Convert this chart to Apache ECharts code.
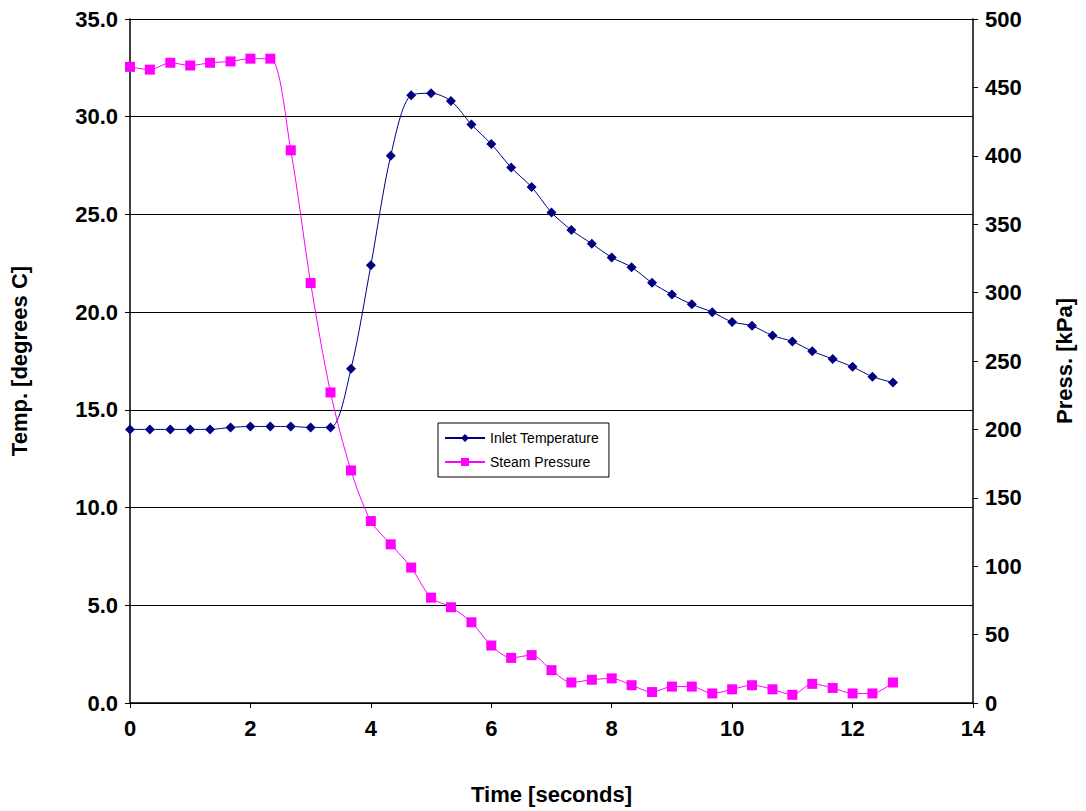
<!DOCTYPE html>
<html><head><meta charset="utf-8">
<script src="https://cdn.jsdelivr.net/npm/echarts@6/dist/echarts.min.js"></script>
<style>html,body{margin:0;background:#fff}#c{width:1086px;height:811px}</style>
</head><body><div id="c"></div>
<script>
var times = [0, 0.33, 0.67, 1, 1.33, 1.67, 2, 2.33, 2.67, 3, 3.33, 3.67, 4, 4.33, 4.67, 5, 5.33, 5.67, 6, 6.33, 6.67, 7, 7.33, 7.67, 8, 8.33, 8.67, 9, 9.33, 9.67, 10, 10.33, 10.67, 11, 11.33, 11.67, 12, 12.33, 12.67];
var inletTemp = [14.0, 14.0, 14.0, 14.0, 14.0, 14.1, 14.15, 14.15, 14.15, 14.1, 14.1, 17.1, 22.4, 28.0, 31.1, 31.2, 30.8, 29.6, 28.6, 27.4, 26.4, 25.1, 24.2, 23.5, 22.8, 22.3, 21.5, 20.9, 20.4, 20.0, 19.5, 19.3, 18.8, 18.5, 18.0, 17.6, 17.2, 16.7, 16.4];
var steamPress = [465, 463, 468, 466, 468, 469, 471, 471, 404, 307, 227, 170, 133, 116, 99, 77, 70, 59, 42, 33, 35, 24, 15, 17, 18, 13, 8, 12, 12, 7, 10, 13, 10, 6, 14, 11, 7, 7, 15];

function pairs(ys) { return times.map(function (t, i) { return [t, ys[i]]; }); }

var font = 'Liberation Sans, Arial, sans-serif';
var chart = echarts.init(document.getElementById('c'), null, { renderer: 'svg' });
chart.setOption({
  animation: false,
  grid: { left: 130, right: 113, top: 19, bottom: 108 },
  legend: {
    left: 438, top: 423, orient: 'vertical', itemGap: 10, itemWidth: 40, itemHeight: 10,
    borderColor: '#000', borderWidth: 1, padding: [8, 10, 8, 6], backgroundColor: '#fff',
    textStyle: { fontFamily: font, fontSize: 14, color: '#000' },
    data: ['Inlet Temperature', 'Steam Pressure']
  },
  xAxis: {
    type: 'value', min: 0, max: 14, interval: 2,
    name: 'Time [seconds]', nameLocation: 'middle', nameGap: 80,
    nameTextStyle: { fontFamily: font, fontSize: 22, fontWeight: 'bold', color: '#000' },
    axisLine: { lineStyle: { color: '#000', width: 1.5 } },
    axisTick: { show: true, inside: false, lineStyle: { color: '#000' } },
    axisLabel: { fontFamily: font, fontSize: 22, fontWeight: 'bold', color: '#000', margin: 14 },
    splitLine: { show: false }
  },
  yAxis: [{
    type: 'value', min: 0, max: 35, interval: 5,
    name: 'Temp. [degrees C]', nameLocation: 'middle', nameGap: 100, nameRotate: 90,
    nameTextStyle: { fontFamily: font, fontSize: 22, fontWeight: 'bold', color: '#000' },
    axisLine: { show: true, lineStyle: { color: '#000', width: 1.5 } },
    axisTick: { show: true, lineStyle: { color: '#000' } },
    axisLabel: { fontFamily: font, fontSize: 22, fontWeight: 'bold', color: '#000', margin: 12,
      formatter: function (v) { return v.toFixed(1); } },
    splitLine: { show: true, lineStyle: { color: '#000', width: 1 } }
  }, {
    type: 'value', min: 0, max: 500, interval: 50,
    name: 'Press. [kPa]', nameLocation: 'middle', nameGap: 80, nameRotate: 90,
    nameTextStyle: { fontFamily: font, fontSize: 22, fontWeight: 'bold', color: '#000' },
    axisLine: { show: true, lineStyle: { color: '#000', width: 1.5 } },
    axisTick: { show: true, lineStyle: { color: '#000' } },
    axisLabel: { fontFamily: font, fontSize: 22, fontWeight: 'bold', color: '#000', margin: 12 },
    splitLine: { show: false }
  }],
  series: [{
    name: 'Inlet Temperature', type: 'line', yAxisIndex: 0, smooth: 0.3,
    data: pairs(inletTemp), symbol: 'diamond', symbolSize: 10,
    lineStyle: { color: '#000080', width: 1 }, itemStyle: { color: '#000080' }
  }, {
    name: 'Steam Pressure', type: 'line', yAxisIndex: 1, smooth: 0.3,
    data: pairs(steamPress), symbol: 'rect', symbolSize: 10,
    lineStyle: { color: '#FF00FF', width: 1 }, itemStyle: { color: '#FF00FF' }
  }]
});
</script>
</body></html>
